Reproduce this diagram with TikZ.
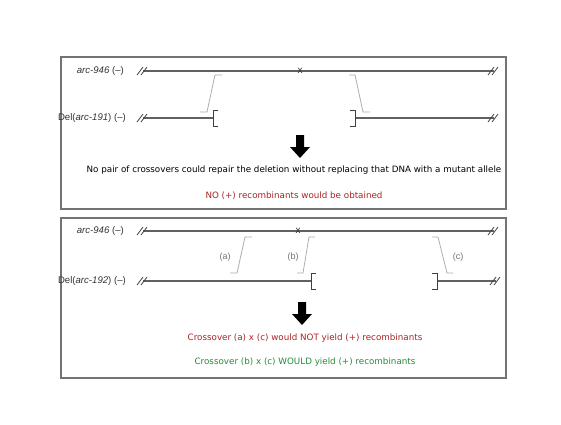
\documentclass[tikz,border=0pt]{standalone}
\usepackage{fontspec}
\setmainfont{DejaVu Sans}
\newfontfamily\labelfont{Liberation Sans}
\definecolor{noteRed}{RGB}{170,35,35}
\definecolor{noteGreen}{RGB}{35,140,55}
\tikzset{
  panel/.style={draw=black!55, line width=1.1pt, fill=none, inner sep=0},
  strand/.style={draw=black!62, line width=1.2pt},
  xover/.style={draw=black!32, line width=0.8pt},
  endbracket/.style={draw=black!75, line width=0.9pt},
  genelabel/.style={font=\labelfont\fontsize{9.6}{11}\selectfont, inner sep=0, text=black!80},
  xlabel/.style={font=\labelfont\fontsize{9}{10}\selectfont, inner sep=0, text=black!55},
  mutmark/.style={font=\labelfont\fontsize{10}{11}\selectfont, inner sep=0, text=black!80},
  note/.style={font=\fontsize{8.75}{10}\selectfont, inner sep=0},
  bigarrow/.style={fill=black, draw=none},
  breakmark/.pic={\draw[black!75, line width=0.8pt] (-6,4) -- (0,-4) (-2,4) -- (4,-4);}
}
\begin{document}
\begin{tikzpicture}[x=1pt,y=-1pt]
\useasboundingbox (0,0) rectangle (561,424);

% ---------- upper panel: arc-191 deletion ----------
\node[panel, minimum width=445pt, minimum height=152pt] (panelA) at (283.5,133) {};

\node[genelabel, anchor=east] (lblA1) at (124,71) {\itshape arc-946\upshape{} (\textendash)};
\node[genelabel, anchor=east] (lblA2) at (126,118) {Del(\itshape arc-191\upshape) (\textendash)};

\coordinate (a1L) at (143,71);
\coordinate (a1R) at (494,71);
\draw[strand] (a1L) -- (a1R);
\pic at (a1L) {breakmark};
\pic at (a1R) {breakmark};
\node[mutmark] (mutA) at (300,70.5) {x};

\coordinate (a2L) at (143,118);
\coordinate (a2gapL) at (213,118);
\coordinate (a2gapR) at (355,118);
\coordinate (a2R) at (494,118);
\draw[strand] (a2L) -- (a2gapL);
\draw[strand] (a2gapR) -- (a2R);
\pic at (a2L) {breakmark};
\pic at (a2R) {breakmark};
\draw[endbracket] ([xshift=5pt,yshift=8pt]a2gapL) -- ([yshift=8pt]a2gapL) -- ([yshift=-8pt]a2gapL) -- ([xshift=5pt,yshift=-8pt]a2gapL);
\draw[endbracket] ([xshift=-5pt,yshift=8pt]a2gapR) -- ([yshift=8pt]a2gapR) -- ([yshift=-8pt]a2gapR) -- ([xshift=-5pt,yshift=-8pt]a2gapR);

\draw[xover] (200,112) -- (207,112) -- (215,75) -- (222,75);
\draw[xover] (349,75) -- (355,75) -- (363,112) -- (370,112);

\fill[bigarrow] (296,135) -- (304,135) -- (304,147) -- (310,147) -- (300,158) -- (290,147) -- (296,147) -- cycle;

\node[note] (noteA1) at (294,170) {No pair of crossovers could repair the deletion without replacing that DNA with a mutant allele};
\node[note, text=noteRed] (noteA2) at (294,196) {NO (+) recombinants would be obtained};

% ---------- lower panel: arc-192 deletion ----------
\node[panel, minimum width=445pt, minimum height=160pt] (panelB) at (283.5,298) {};

\node[genelabel, anchor=east] (lblB1) at (124,231) {\itshape arc-946\upshape{} (\textendash)};
\node[genelabel, anchor=east] (lblB2) at (126,281) {Del(\itshape arc-192\upshape) (\textendash)};

\coordinate (b1L) at (143,231);
\coordinate (b1R) at (494,231);
\draw[strand] (b1L) -- (b1R);
\pic at (b1L) {breakmark};
\pic at (b1R) {breakmark};
\node[mutmark] (mutB) at (298,230.5) {x};

\coordinate (b2L) at (143,281);
\coordinate (b2gapL) at (311,281);
\coordinate (b2gapR) at (437,281);
\coordinate (b2R) at (496,281);
\draw[strand] (b2L) -- (b2gapL);
\draw[strand] (b2gapR) -- (b2R);
\pic at (b2L) {breakmark};
\pic at (b2R) {breakmark};
\draw[endbracket] ([xshift=5pt,yshift=8pt]b2gapL) -- ([yshift=8pt]b2gapL) -- ([yshift=-8pt]b2gapL) -- ([xshift=5pt,yshift=-8pt]b2gapL);
\draw[endbracket] ([xshift=-5pt,yshift=8pt]b2gapR) -- ([yshift=8pt]b2gapR) -- ([yshift=-8pt]b2gapR) -- ([xshift=-5pt,yshift=-8pt]b2gapR);

\draw[xover] (230,273) -- (237,273) -- (245,237) -- (252,237);
\draw[xover] (297,273) -- (303,273) -- (309,237) -- (315,237);
\draw[xover] (432,237) -- (438,237) -- (447,273) -- (453,273);
\node[xlabel] (xa) at (225,257) {(a)};
\node[xlabel] (xb) at (293,257) {(b)};
\node[xlabel] (xc) at (458,257) {(c)};

\fill[bigarrow] (298,302) -- (306,302) -- (306,314) -- (312,314) -- (302,325) -- (292,314) -- (298,314) -- cycle;

\node[note, text=noteRed] (noteB1) at (305,338) {Crossover (a) x (c) would NOT yield (+) recombinants};
\node[note, text=noteGreen] (noteB2) at (305,362) {Crossover (b) x (c) WOULD yield (+) recombinants};
\end{tikzpicture}
\end{document}
